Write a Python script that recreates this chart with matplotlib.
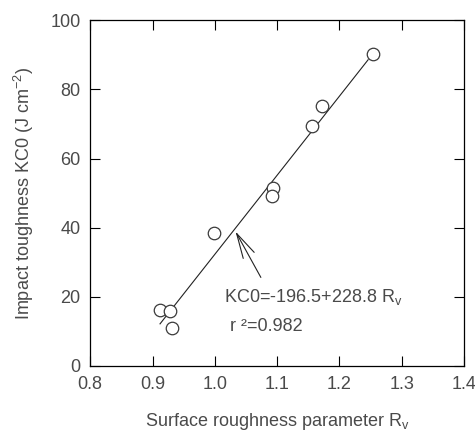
import numpy as np
import matplotlib.pyplot as plt

plt.rcParams['font.family'] = ['Liberation Sans', 'DejaVu Sans']

# === Datos ===
rv = [0.912, 0.928, 0.932, 0.999, 1.094, 1.092, 1.156, 1.172, 1.254]
kc0 = [16.2, 16.0, 11.0, 38.4, 51.4, 49.1, 69.4, 75.1, 90.2]
fit_x = [0.912, 1.246]
intercept = -196.5
slope = 228.8
xticks = [0.8, 0.9, 1.0, 1.1, 1.2, 1.3, 1.4]
yticks = [0, 20, 40, 60, 80, 100]

txt = '#4a4a4a'
fs = 13

fig, ax = plt.subplots(figsize=(4.75, 4.32), dpi=100)
fig.subplots_adjust(left=0.19, right=0.977, top=0.953, bottom=0.153)

fx = np.array(fit_x)
ax.plot(fx, intercept + slope * fx, color='#222222', lw=0.8, zorder=2)
ax.plot(rv, kc0, 'o', ms=9, mfc='white', mec='#3a3a3a', mew=0.9, zorder=3)

ax.annotate('', xy=(1.031, 39.6), xytext=(1.076, 24.9),
            arrowprops=dict(arrowstyle='->,head_length=1.8,head_width=0.45',
                            color='#222222', lw=0.8))
ax.text(1.015, 20, r'KC0=-196.5+228.8 R$_{\mathregular{v}}$', fontsize=fs,
        color=txt, va='center', ha='left')
ax.text(1.024, 11.3, 'r ²=0.982', fontsize=fs, color=txt,
        va='center', ha='left')

ax.set_xlim(0.8, 1.4)
ax.set_ylim(0, 100)
ax.set_xticks(xticks)
ax.set_yticks(yticks)
ax.set_xticklabels(['%.1f' % t for t in xticks])
ax.tick_params(direction='in', top=True, right=True, length=7, width=0.8,
               labelsize=fs, labelcolor=txt, pad=7)
for s in ax.spines.values():
    s.set_linewidth(0.9)

ax.set_xlabel(r'Surface roughness parameter R$_{\mathregular{v}}$', fontsize=fs,
              color=txt, labelpad=13)
ax.set_ylabel(r'Impact toughness KC0 (J cm$^{\mathregular{-2}}$)', fontsize=fs,
              color=txt, labelpad=10)

plt.savefig('out.png', dpi=100)
